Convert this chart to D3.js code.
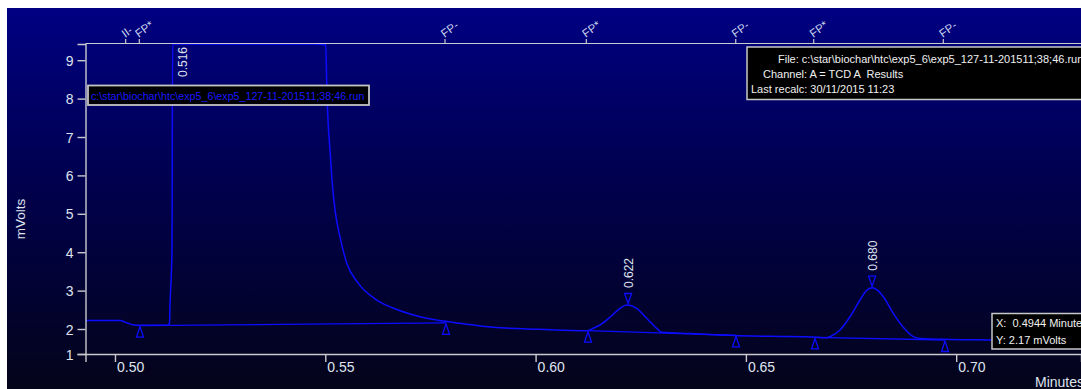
<!DOCTYPE html>
<html><head><meta charset="utf-8">
<script src="https://cdn.jsdelivr.net/npm/d3@7"></script>
<style>
html,body{margin:0;padding:0;background:#fff;}
svg{display:block;font-family:"Liberation Sans",Arial,sans-serif;}
.pre{white-space:pre;}
</style></head><body>
<svg id="chart" width="1081" height="389"></svg>
<script>
// ---------- data ----------
const xDomain = [0.49299, 0.72967];
const yDomain = [1.349, 9.422];
const xTickValues = [0.50, 0.55, 0.60, 0.65, 0.70];
const xTickLabels = ["0.50", "0.55", "0.60", "0.65", "0.70"];
const yTickValues = [1.349, 2, 3, 4, 5, 6, 7, 8, 9];
const yTickLabels = ["1", "2", "3", "4", "5", "6", "7", "8", "9"];

const signalTimes = [0.4930, 0.5014, 0.50215, 0.50309, 0.50428, 0.50594, 0.5126, 0.51296, 0.51308, 0.51355, 0.5137,
  0.5145, 0.5160, 0.5180, 0.5220, 0.5300, 0.5400, 0.5470,
  0.5501, 0.55033, 0.55057, 0.55112, 0.55166, 0.55231, 0.55349, 0.55509, 0.55777, 0.56222, 0.5661, 0.57014,
  0.57411, 0.57798, 0.58203, 0.58987, 0.60105, 0.61215,
  0.61372, 0.61531, 0.61769, 0.62007, 0.62166, 0.62404, 0.62641, 0.62879, 0.62998,
  0.63671, 0.64384, 0.65573, 0.66446, 0.66921,
  0.67, 0.67238, 0.67475, 0.67713, 0.67856, 0.68005, 0.68141, 0.68267, 0.68505, 0.68742, 0.6898,
  0.6914, 0.69853, 0.70804, 0.72967];
const signalValues = [2.22, 2.22, 2.19, 2.15, 2.11, 2.096, 2.096, 2.156, 2.625, 4.06, 12,
  40, 95, 70, 40, 22, 13.5, 10.3,
  9.40, 8.48, 7.625, 6.66, 5.80, 5.10, 4.40, 3.72, 3.20, 2.755, 2.547, 2.39,
  2.279, 2.208, 2.148, 2.044, 1.992, 1.956,
  2.018, 2.104, 2.305, 2.539, 2.625, 2.539, 2.279, 2.018, 1.914,
  1.883, 1.844, 1.81, 1.80, 1.773,
  1.80, 1.974, 2.32, 2.755, 2.99, 3.075, 3.00, 2.841, 2.409, 2.044, 1.80,
  1.753, 1.727, 1.714, 1.69];

const eventTimes = [0.50254, 0.50578, 0.57846, 0.61206, 0.64758, 0.66612, 0.69693];
const eventLabels = ["II-", "FP*", "FP-", "FP*", "FP-", "FP*", "FP-"];

const peakTimes = [0.516, 0.622, 0.680];
const peakLabels = ["0.516", "0.622", "0.680"];
const peakHeights = [95, 2.625, 3.075];

const baselineStartTimes = [0.50594, 0.61246, 0.66643];
const baselineStartValues = [2.09, 1.956, 1.78];
const baselineEndTimes = [0.57870, 0.64765, 0.69734];
const baselineEndValues = [2.16, 1.836, 1.714];

const fileName = "c:\\star\\biochar\\htc\\exp5_6\\exp5_127-11-201511;38;46.run";
const infoLines = ["File: " + fileName, "Channel: A = TCD A  Results", "Last recalc: 30/11/2015 11:23"];
const cursorLines = ["X:  0.4944 Minutes", "Y: 2.17 mVolts"];
const yTitle = "mVolts";
const xTitle = "Minutes";

// ---------- layout ----------
const W = 1081, H = 389;
const plotL = 85.5, plotR = 1081, plotT = 44, plotB = 354;
const svg = d3.select("#chart");
const LINE = "#0c0cff";
const AXIS = "#c9c9cf";
const TXT = "#dfe3ee";

const defs = svg.append("defs");
const grad = defs.append("linearGradient").attr("id", "bg").attr("x1", 0).attr("y1", 0).attr("x2", 0).attr("y2", 1);
grad.append("stop").attr("offset", "0%").attr("stop-color", "#000082");
grad.append("stop").attr("offset", "45%").attr("stop-color", "#00004e");
grad.append("stop").attr("offset", "100%").attr("stop-color", "#04041a");
defs.append("clipPath").attr("id", "plotclip").append("rect")
  .attr("x", plotL).attr("y", plotT).attr("width", plotR - plotL).attr("height", plotB - plotT);

svg.append("rect").attr("x", 0).attr("y", 0).attr("width", W).attr("height", H).attr("fill", "#ffffff");
svg.append("rect").attr("x", 7).attr("y", 8).attr("width", W - 7).attr("height", H - 8).attr("fill", "url(#bg)");

const x = d3.scaleLinear().domain(xDomain).range([plotL, plotR]);
const y = d3.scaleLinear().domain(yDomain).range([plotB, plotT]).clamp(true);

// signal
const pts = signalTimes.map((t, i) => [t, signalValues[i]]);
const line = d3.line().x(d => x(d[0])).y(d => y(d[1])).curve(d3.curveMonotoneX);
const g = svg.append("g").attr("clip-path", "url(#plotclip)");
g.append("path").datum(pts).attr("d", line).attr("fill", "none").attr("stroke", LINE).attr("stroke-width", 1.5);

// baselines
baselineStartTimes.forEach((t, i) => {
  g.append("path").datum([[t, baselineStartValues[i]], [baselineEndTimes[i], baselineEndValues[i]]])
    .attr("d", d3.line().x(d => x(d[0])).y(d => y(d[1])))
    .attr("fill", "none").attr("stroke", LINE).attr("stroke-width", 1.3);
});

// baseline markers (up triangles)
const marks = [];
baselineStartTimes.forEach((t, i) => { marks.push([t, baselineStartValues[i]]); marks.push([baselineEndTimes[i], baselineEndValues[i]]); });
marks.forEach(m => {
  const cx = x(m[0]), cy = y(m[1]) + 1;
  g.append("path").attr("d", `M${cx},${cy}L${cx - 3.5},${cy + 10.5}L${cx + 3.5},${cy + 10.5}Z`)
    .attr("fill", "none").attr("stroke", LINE).attr("stroke-width", 1.3);
});

// peak markers and labels
peakTimes.forEach((t, i) => {
  const px = x(t), py = y(peakHeights[i]);
  const onScale = peakHeights[i] < yDomain[1];
  if (onScale) {
    svg.append("path").attr("d", `M${px},${py - 1.5}L${px - 3.5},${py - 11.5}L${px + 3.5},${py - 11.5}Z`)
      .attr("fill", "none").attr("stroke", LINE).attr("stroke-width", 1.3);
  }
  const bottom = Math.max(py - 17, plotT + 33);
  svg.append("text").attr("transform", `translate(${px + 4.5},${bottom}) rotate(-90)`)
    .attr("font-size", 12).attr("fill", TXT).text(peakLabels[i]);
});

// axes
const yAxis = d3.axisLeft(y).tickValues(yTickValues).tickFormat((d, i) => yTickLabels[i]).tickSize(8).tickSizeOuter(8);
const ya = svg.append("g").attr("transform", `translate(${plotL},0)`).call(yAxis);
ya.selectAll("path,line").attr("stroke", AXIS).attr("stroke-width", 1.4);
ya.selectAll("text").attr("fill", TXT).attr("font-size", 14).attr("x", -12).attr("dy", "0.36em")
  .attr("font-family", "Liberation Sans, Arial, sans-serif");

const xAxis = d3.axisBottom(x).tickValues(xTickValues).tickFormat((d, i) => xTickLabels[i]).tickSize(8).tickSizeOuter(8);
const xa = svg.append("g").attr("transform", `translate(0,${plotB})`).call(xAxis);
xa.selectAll("path,line").attr("stroke", AXIS).attr("stroke-width", 1.4);
xa.selectAll("text").attr("fill", TXT).attr("font-size", 14).attr("text-anchor", "start")
  .attr("x", 1.5).attr("y", 18).attr("dy", null).attr("font-family", "Liberation Sans, Arial, sans-serif");

// top axis with events
svg.append("line").attr("x1", plotL).attr("x2", plotR).attr("y1", plotT - 0.5).attr("y2", plotT - 0.5)
  .attr("stroke", AXIS).attr("stroke-width", 1.2);
eventTimes.forEach((t, i) => {
  const ex = x(t);
  svg.append("line").attr("x1", ex).attr("x2", ex).attr("y1", plotT - 1).attr("y2", plotT - 5)
    .attr("stroke", AXIS).attr("stroke-width", 1.2);
  svg.append("text").attr("transform", `translate(${ex - 0.5},${plotT - 6}) rotate(-36)`)
    .attr("font-size", 11.5).attr("fill", "#c6d2ea").text(eventLabels[i]);
});

// axis titles
svg.append("text").attr("transform", "translate(25,219) rotate(-90)").attr("text-anchor", "middle")
  .attr("font-size", 13.5).attr("fill", TXT).text(yTitle);
svg.append("text").attr("x", 1035).attr("y", 387).attr("font-size", 14).attr("fill", TXT).text(xTitle);

// file box (left)
svg.append("rect").attr("x", 88).attr("y", 85.5).attr("width", 281).attr("height", 19.5)
  .attr("fill", "#000").attr("stroke", "#c4c4c4").attr("stroke-width", 1.8);
svg.append("text").attr("x", 91).attr("y", 99.5).attr("font-size", 10.7).attr("fill", "#1818ff").text(fileName);

// info box (right)
svg.append("rect").attr("x", 747).attr("y", 47).attr("width", 340).attr("height", 52.5)
  .attr("fill", "#000").attr("stroke", "#c8c8c8").attr("stroke-width", 1.5);
const infoX = [778, 763, 751];
const infoY = [63, 78, 93];
infoLines.forEach((s, i) => {
  svg.append("text").attr("class", "pre").attr("x", infoX[i]).attr("y", infoY[i]).attr("font-size", 11)
    .attr("fill", "#f0f0f0").text(s);
});

// cursor box (bottom right)
svg.append("rect").attr("x", 992).attr("y", 313.5).attr("width", 100).attr("height", 35.5)
  .attr("fill", "#000").attr("stroke", "#c8c8c8").attr("stroke-width", 1.5);
cursorLines.forEach((s, i) => {
  svg.append("text").attr("class", "pre").attr("x", 996).attr("y", 327 + i * 17).attr("font-size", 11)
    .attr("fill", "#f0f0f0").text(s);
});
</script>
</body></html>
